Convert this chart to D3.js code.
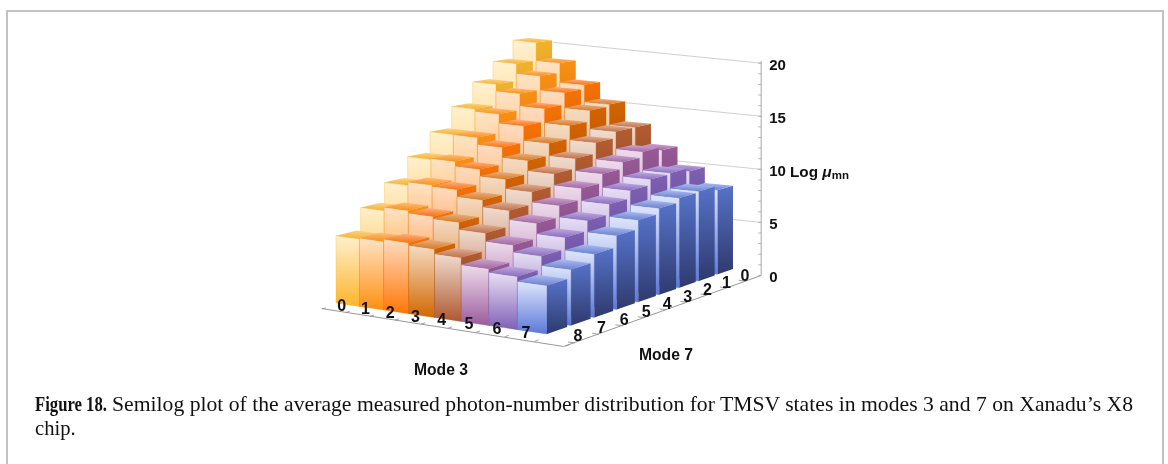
<!DOCTYPE html>
<html><head><meta charset="utf-8">
<style>html,body{margin:0;padding:0;background:#fff}svg{display:block;filter:blur(0.35px)}
text{font-family:"Liberation Sans",Arial,sans-serif;font-weight:700;fill:#111}
.cap{font-family:"Liberation Serif",serif;font-weight:400;font-size:20.6px;fill:#111}
</style></head><body>
<script src="https://cdn.jsdelivr.net/npm/d3@7"></script>
<script>
const mode3Labels=[0,1,2,3,4,5,6,7];
const mode7Labels=[0,1,2,3,4,5,6,7,8];
const zTicks=[0,5,10,15,20];
// value[i][j]: i = Mode 3, j = Mode 7
const logMu0=[20.0,18.3,16.7,14.8,12.9,11.1,9.3,7.6,5.7];
const logMu1=[18.3,17.4,16.1,14.6,12.9,11.2,9.6,7.9,5.8];
const logMu2=[16.5,16.1,15.0,13.8,12.3,10.8,9.5,7.7,6.0];
const logMu3=[14.9,14.7,13.7,12.5,11.4,10.2,8.9,7.5,5.8];
const logMu4=[13.0,13.0,12.4,11.4,10.5,9.4,8.3,6.9,5.4];
const logMu5=[11.1,11.4,10.9,10.3,9.5,8.5,7.5,6.2,4.8];
const logMu6=[9.4,9.7,9.6,9.1,8.4,7.5,6.6,5.6,4.5];
const logMu7=[7.9,8.3,8.2,7.8,7.3,6.5,5.5,4.8,4.1];
const values=[logMu0,logMu1,logMu2,logMu3,logMu4,logMu5,logMu6,logMu7];
const sideTop=["#f2b22c","#fa9014","#f77205","#d46400","#b45c30","#985a98","#7f60b5","#5672c8"];
const sideBot=["#8f6a1a","#94550c","#924303","#7d3b00","#6a361c","#5a355a","#4b396b","#2f3a6e"];
const faceTop=["#fff0cf","#ffe3c4","#ffdcc0","#f5dcc4","#f0dccf","#efdcec","#e8e0f4","#dfe6fb"];
const faceBot=["#fdb52c","#ff8f10","#ff7605","#d26800","#b0582f","#9a5c9c","#8060b8","#5b78d8"];
const topRear=["#fbd48a","#fdbc80","#fdb088","#e8b088","#deb09a","#cfa4cf","#bfacE0","#aebcf0"];
const topFront=["#f6b030","#fa9014","#f77205","#d87a20","#c07048","#9e68a0","#8a6cbc","#6880d0"];

const W=1168,H=464;
const svg=d3.select("body").append("svg").attr("width",W).attr("height",H);
const defs=svg.append("defs");
function grad(id,c0,c1,x1,y1,x2,y2){
  const g=defs.append("linearGradient").attr("id",id).attr("x1",x1).attr("y1",y1).attr("x2",x2).attr("y2",y2);
  g.append("stop").attr("offset",0).attr("stop-color",c0);
  g.append("stop").attr("offset",1).attr("stop-color",c1);
}
mode3Labels.forEach((_,i)=>{
  grad("f"+i,faceTop[i],faceBot[i],0,0,0,1);
  grad("s"+i,sideTop[i],sideBot[i],0,0,0,1);
  grad("t"+i,topRear[i],topFront[i],0.6,0,0.4,1);
});

// ground homography: s along Mode 3, t front to rear
const G=-0.1239,Hh=0.1473;
function ground(s,t){const w=1+G*s+Hh*t;
  return [(143.2*s+270.9*t+336)/w,(-10.38*s-17.3*t+303)/w];}
const zScale=d3.scaleLinear().domain([0,1]).range([1.12,1]); // perspective factor by depth
const sU=d3.scaleLinear().domain([0,8]).range([0,1]);
const tV=d3.scaleLinear().domain([0,9]).range([0,1]);
const zUnit=10.55;
function proj(u,v,z){const s=sU(u),t=tV(v),p=ground(s,t);
  return [p[0],p[1]-z*zUnit*zScale(t)];}
const line=d3.line();
const poly=pts=>line(pts)+"Z";

const frame=svg.append("g");
const axes=svg.append("g").attr("fill","none");
const frontA=[0.16,-0.72],frontB=[9.18,-0.81],rearC=[9.24,8.55];
// gridlines on the rear wall
zTicks.slice(1).forEach(z=>{
  axes.append("path").attr("d",line([proj(1.4,8.55,z),proj(rearC[0],rearC[1],z)]))
   .attr("stroke","#c9c9c9").attr("stroke-width",.9);
});
// floor axes
axes.append("path").attr("d",line([proj(frontA[0],frontA[1],0),proj(frontB[0],frontB[1],0),proj(rearC[0],rearC[1],0)]))
   .attr("stroke","#8c8c8c").attr("stroke-width",.9);
d3.range(0,10).forEach(u=>{
  const v=-0.75;const a=proj(u+0.2,v,0),b=proj(u+0.2,v+.16,0);
  axes.append("path").attr("d",line([a,b])).attr("stroke","#8c8c8c").attr("stroke-width",.8);
});
d3.range(0,9).forEach(k=>{
  const a=proj(9.22,k*1.0125-0.4,0),b=proj(9.0,k*1.0125-0.4,0);
  axes.append("path").attr("d",line([a,b])).attr("stroke","#8c8c8c").attr("stroke-width",.8);
});
// vertical axis
axes.append("path").attr("d",line([proj(rearC[0],rearC[1],0),proj(rearC[0],rearC[1],20.2)]))
   .attr("stroke","#a6a6a6").attr("stroke-width",1);
d3.range(0,21).forEach(z=>{
  const p=proj(rearC[0],rearC[1],z);
  axes.append("path").attr("d",line([[p[0]-3,p[1]],[p[0],p[1]]]))
    .attr("stroke","#a6a6a6").attr("stroke-width",.8);
});

// bars, rear row first, left to right
const bars=svg.append("g");
const rowStep=1.019,rowDepth=0.85;
mode7Labels.forEach(j=>{
  const v0=(8-j)*rowStep,v1=v0+rowDepth;
  mode3Labels.forEach(i=>{
    const u0=i,u1=i+1,z=values[i][j];
    const g=bars.append("g");
    // front face
    g.append("path").attr("d",poly([proj(u0,v0,z),proj(u1,v0,z),proj(u1,v0,0),proj(u0,v0,0)]))
      .attr("fill",`url(#f${i})`).attr("stroke",faceBot[i]).attr("stroke-opacity",.5).attr("stroke-width",.7);
    // right face
    g.append("path").attr("d",poly([proj(u1,v0,z),proj(u1,v1,z),proj(u1,v1,0),proj(u1,v0,0)]))
      .attr("fill",`url(#s${i})`);
    // top face
    g.append("path").attr("d",poly([proj(u0,v0,z),proj(u1,v0,z),proj(u1,v1,z),proj(u0,v1,z)]))
      .attr("fill",`url(#t${i})`);
  });
});

// labels
const lab=svg.append("g");
mode3Labels.forEach(i=>{
  const p=proj(i+.5,0,0);
  lab.append("text").attr("x",p[0]-6).attr("y",p[1]+6).attr("text-anchor","middle").attr("font-size",16).text(i);
});
mode7Labels.forEach(j=>{
  const p=proj(8.8,(8-j)*1.0125+.27,0);
  lab.append("text").attr("x",p[0]).attr("y",p[1]+6).attr("text-anchor","middle").attr("font-size",16).text(j);
});
zTicks.forEach(z=>{
  const p=proj(rearC[0],rearC[1],z);
  lab.append("text").attr("x",p[0]+8).attr("y",p[1]+6.5).attr("font-size",15).text(z);
});
lab.append("text").attr("x",441).attr("y",375).attr("text-anchor","middle").attr("font-size",15.7).text("Mode 3");
lab.append("text").attr("x",666).attr("y",360).attr("text-anchor","middle").attr("font-size",15.7).text("Mode 7");
const lg=lab.append("text").attr("x",790).attr("y",177).attr("font-size",15.3);
lg.append("tspan").text("Log ");
lg.append("tspan").attr("font-style","italic").attr("font-size",15.5).text("\u03bc");
lg.append("tspan").attr("font-size",11.5).attr("dy",2).text("mn");

// panel border and caption
frame.append("path").attr("d",line([[7,464],[7,11],[1163,11],[1163,464]]))
  .attr("fill","none").attr("stroke","#c2c2c2").attr("stroke-width",2);
svg.append("text").attr("class","cap").attr("transform","translate(35,411) scale(.81,1)").style("font-weight",700).text("Figure 18.");
svg.append("text").attr("class","cap").attr("x",112).attr("y",411)
  .attr("textLength",1021).attr("lengthAdjust","spacingAndGlyphs")
  .text("Semilog plot of the average measured photon-number distribution for TMSV states in modes 3 and 7 on Xanadu\u2019s X8");
svg.append("text").attr("class","cap").attr("x",35).attr("y",435).text("chip.");
</script></body></html>
